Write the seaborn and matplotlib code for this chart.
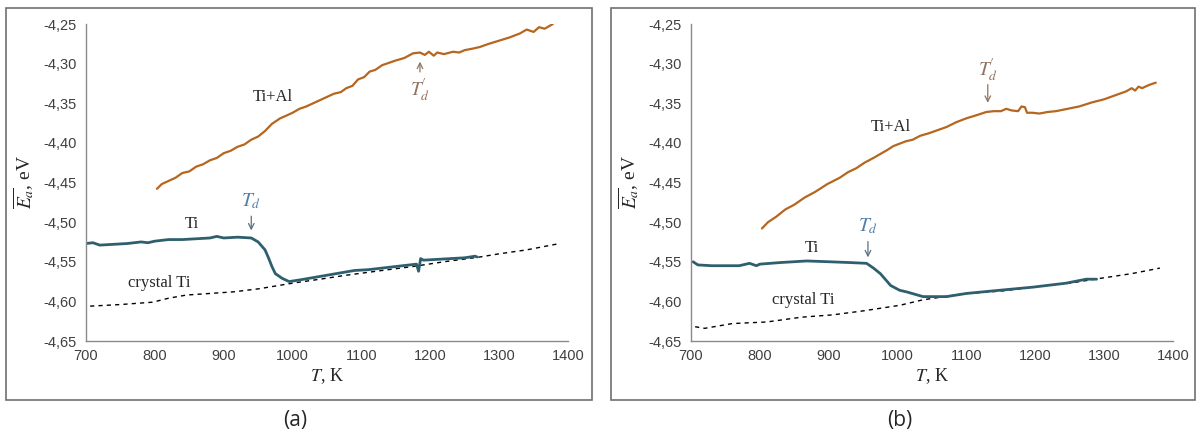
import numpy as np
import pandas as pd
import matplotlib
matplotlib.use('Agg')
import matplotlib.pyplot as plt
from matplotlib.patches import Rectangle
from matplotlib.ticker import FuncFormatter
import seaborn as sns

# panel (a) data
a_ti_T = [700, 710, 720, 740, 760, 780, 790, 800, 820, 840, 860, 880, 890, 900, 920, 940,
          950, 960, 965, 970, 975, 985, 995, 1010, 1030, 1050, 1070, 1090, 1110, 1130, 1150,
          1170, 1180, 1183, 1186, 1190, 1210, 1230, 1250, 1265, 1268]
a_ti_E = [-4.527, -4.526, -4.529, -4.528, -4.527, -4.525, -4.526, -4.524, -4.522, -4.522,
          -4.521, -4.520, -4.518, -4.520, -4.519, -4.520, -4.525, -4.535, -4.545, -4.556,
          -4.565, -4.571, -4.575, -4.573, -4.570, -4.567, -4.564, -4.561, -4.560, -4.558,
          -4.556, -4.554, -4.553, -4.562, -4.546, -4.548, -4.547, -4.546, -4.545, -4.543, -4.544]
a_cr_T = [706, 750, 797, 820, 846, 880, 914, 952, 1000, 1040, 1078, 1130, 1175, 1220, 1272,
          1300, 1340, 1388]
a_cr_E = [-4.606, -4.604, -4.601, -4.596, -4.592, -4.590, -4.588, -4.584, -4.577, -4.572,
          -4.567, -4.561, -4.556, -4.550, -4.544, -4.540, -4.535, -4.527]
a_al_T = [803, 810, 820, 830, 840, 850, 860, 870, 880, 890, 900, 910, 920, 930, 940, 950,
          960, 970, 982, 990, 1000, 1010, 1020, 1030, 1040, 1050, 1060, 1070, 1078, 1087,
          1095, 1104, 1112, 1120, 1130, 1140, 1150, 1162, 1175, 1185, 1192, 1198, 1205, 1210,
          1220, 1233, 1242, 1250, 1262, 1272, 1285, 1300, 1315, 1330, 1340, 1350, 1358, 1366, 1378]
a_al_E = [-4.458, -4.452, -4.448, -4.444, -4.438, -4.436, -4.430, -4.427, -4.422, -4.419,
          -4.413, -4.410, -4.405, -4.402, -4.396, -4.392, -4.385, -4.376, -4.369, -4.366,
          -4.362, -4.357, -4.354, -4.350, -4.346, -4.342, -4.338, -4.336, -4.331, -4.328,
          -4.320, -4.317, -4.310, -4.308, -4.302, -4.299, -4.296, -4.293, -4.287, -4.286,
          -4.289, -4.285, -4.290, -4.286, -4.288, -4.285, -4.286, -4.283, -4.281, -4.279,
          -4.275, -4.271, -4.267, -4.262, -4.257, -4.260, -4.254, -4.256, -4.250]

# panel (b) data
b_ti_T = [703, 710, 730, 750, 770, 785, 795, 800, 830, 868, 900, 930, 955, 965, 975, 982,
          990, 1003, 1013, 1037, 1071, 1100, 1148, 1197, 1245, 1274, 1289]
b_ti_E = [-4.550, -4.554, -4.555, -4.555, -4.555, -4.552, -4.555, -4.553, -4.551, -4.549,
          -4.550, -4.551, -4.552, -4.558, -4.565, -4.572, -4.580, -4.586, -4.588, -4.594,
          -4.594, -4.590, -4.586, -4.582, -4.577, -4.572, -4.572]
b_cr_T = [706, 720, 760, 810, 860, 906, 950, 1003, 1037, 1100, 1150, 1197, 1250, 1294, 1340, 1381]
b_cr_E = [-4.632, -4.634, -4.628, -4.626, -4.620, -4.617, -4.612, -4.605, -4.598, -4.590,
          -4.587, -4.582, -4.577, -4.571, -4.565, -4.558]
b_al_T = [803, 812, 824, 837, 850, 865, 880, 898, 916, 928, 940, 952, 965, 975, 985, 994,
          1003, 1012, 1022, 1033, 1045, 1058, 1071, 1085, 1100, 1115, 1129, 1140, 1150, 1158,
          1165, 1175, 1180, 1185, 1188, 1196, 1206, 1218, 1230, 1247, 1264, 1282, 1300, 1316,
          1332, 1340, 1345, 1350, 1355, 1365, 1375]
b_al_E = [-4.508, -4.500, -4.493, -4.484, -4.478, -4.469, -4.462, -4.452, -4.444, -4.437,
          -4.432, -4.425, -4.419, -4.414, -4.409, -4.404, -4.401, -4.398, -4.396, -4.391,
          -4.388, -4.384, -4.380, -4.374, -4.369, -4.365, -4.361, -4.360, -4.360, -4.357,
          -4.359, -4.360, -4.354, -4.355, -4.362, -4.362, -4.363, -4.361, -4.360, -4.357,
          -4.354, -4.349, -4.345, -4.340, -4.335, -4.331, -4.334, -4.329, -4.331, -4.327, -4.324]

# annotation positions (T, arrow tail E, arrow tip E, text E)
a_td = (940, -4.489, -4.514, -4.474)
a_tdp = (1185, -4.314, -4.294, -4.333)
b_td = (957, -4.521, -4.548, -4.505)
b_tdp = (1131, -4.323, -4.353, -4.308)

yticks = [-4.65, -4.60, -4.55, -4.50, -4.45, -4.40, -4.35, -4.30, -4.25]
xticks = [700, 800, 900, 1000, 1100, 1200, 1300, 1400]

sns.set_style('white')
plt.rcParams['font.family'] = ['Liberation Sans', 'DejaVu Sans']
plt.rcParams['mathtext.fontset'] = 'stix'

W, H = 1196, 436
fig = plt.figure(figsize=(W / 100, H / 100), dpi=100)

c_ti = '#2f5f6e'
c_al = '#b5661f'
c_td = '#4f7ea8'
c_tdp = '#8f7360'
serif = 'Liberation Serif'

# outer frames
for x0, x1 in [(6, 592), (611, 1195)]:
    fig.patches.append(Rectangle((x0 / W, 36 / H), (x1 - x0) / W, 392 / H,
                                 transform=fig.transFigure, fill=False,
                                 edgecolor='#707070', lw=1.2))

panels = [
    (86, a_ti_T, a_ti_E, a_cr_T, a_cr_E, a_al_T, a_al_E, a_td, a_tdp,
     (853, -4.502), (807, -4.577), (971, -4.342), '(a)', 295),
    (691, b_ti_T, b_ti_E, b_cr_T, b_cr_E, b_al_T, b_al_E, b_td, b_tdp,
     (875, -4.533), (863, -4.598), (990, -4.380), '(b)', 900),
]

for (px, tiT, tiE, crT, crE, alT, alE, td, tdp, ti_lab, cr_lab, al_lab, tag, tagx) in panels:
    ax = fig.add_axes([px / W, 95 / H, 482 / W, 317 / H])
    sns.lineplot(x=crT, y=crE, ax=ax, color='black', lw=1.0, linestyle=(0, (3, 3)),
                 estimator=None, sort=False)
    sns.lineplot(x=tiT, y=tiE, ax=ax, color=c_ti, lw=2.0, estimator=None, sort=False)
    sns.lineplot(x=alT, y=alE, ax=ax, color=c_al, lw=1.6, estimator=None, sort=False)

    ax.set_xlim(700, 1400)
    ax.set_ylim(-4.65, -4.25)
    ax.set_xticks(xticks)
    ax.set_yticks(yticks)
    ax.yaxis.set_major_formatter(FuncFormatter(lambda v, p: f'{v:.2f}'.replace('.', ',')))
    for s in ['top', 'right']:
        ax.spines[s].set_visible(False)
    for s in ['left', 'bottom']:
        ax.spines[s].set_color('#8a8a8a')
        ax.spines[s].set_linewidth(1.0)
    ax.tick_params(axis='y', direction='out', length=5, color='#8a8a8a', labelsize=10.5,
                   labelcolor='#404040', pad=2)
    ax.tick_params(axis='x', direction='in', length=4, color='#8a8a8a', labelsize=10.5,
                   labelcolor='#404040', pad=6)
    for lab in ax.get_xticklabels() + ax.get_yticklabels():
        lab.set_fontfamily('Liberation Sans')

    ax.set_xlabel(r'$T$, K', fontsize=13, family=serif, labelpad=2)
    ax.set_ylabel(r'$\overline{E_a}$, eV', fontsize=14, family=serif, labelpad=4)

    ax.text(*ti_lab, 'Ti', fontsize=12, family=serif, ha='center', va='center')
    ax.text(*cr_lab, 'crystal Ti', fontsize=12, family=serif, ha='center', va='center')
    ax.text(*al_lab, 'Ti+Al', fontsize=12, family=serif, ha='center', va='center')

    ax.annotate('', xy=(td[0], td[2]), xytext=(td[0], td[1]),
                arrowprops=dict(arrowstyle='->', color='#5a6f80', lw=0.9))
    ax.text(td[0], td[3], r'$T_d$', fontsize=14, color=c_td, ha='center', va='center')
    ax.annotate('', xy=(tdp[0], tdp[2]), xytext=(tdp[0], tdp[1]),
                arrowprops=dict(arrowstyle='->', color=c_tdp, lw=0.9))
    ax.text(tdp[0], tdp[3], r"$T^{\!\prime}_{d}$", fontsize=14, color=c_tdp,
            ha='center', va='center')

    fig.text(tagx / W, 1 - 420 / H, tag, fontsize=15, family='Open Sans',
             ha='center', va='center')

fig.savefig('out.png', dpi=100)
